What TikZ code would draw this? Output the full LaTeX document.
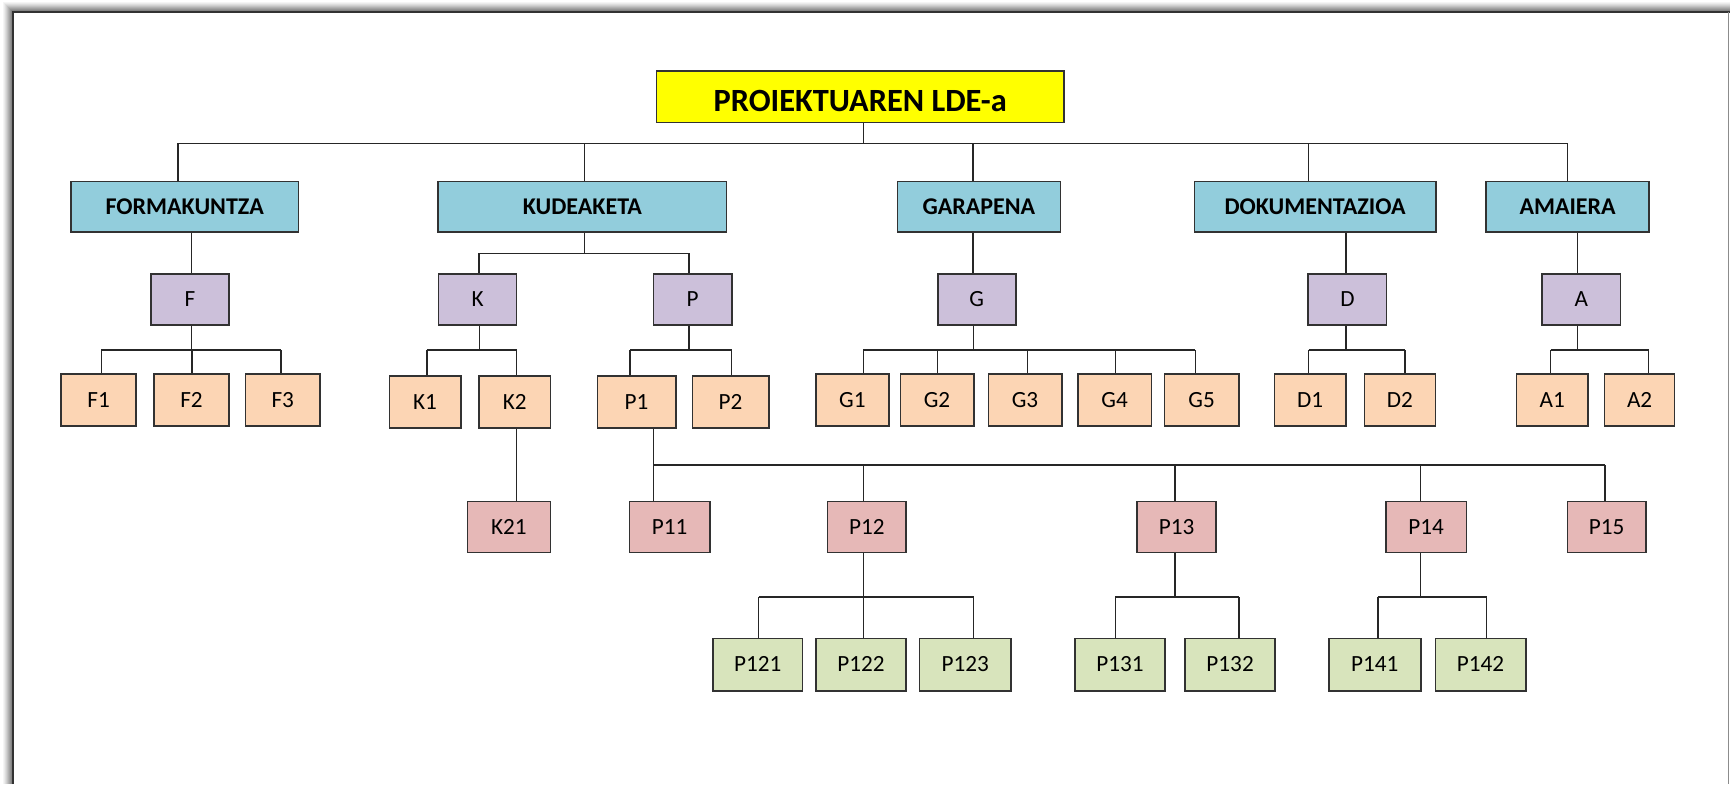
\documentclass[tikz,border=0pt]{standalone}
\usepackage{fontspec}
\setmainfont{Carlito}
\definecolor{topc}{RGB}{146,205,220}
\definecolor{purc}{RGB}{204,192,218}
\definecolor{peachc}{RGB}{252,213,180}
\definecolor{pinkc}{RGB}{230,184,183}
\definecolor{greenc}{RGB}{216,228,188}
\definecolor{rootc}{RGB}{255,255,0}
\definecolor{linec}{RGB}{38,38,38}
\definecolor{edgec}{RGB}{50,50,50}
\tikzset{
  box/.style={draw=edgec, line width=0.8pt, inner sep=0pt, text depth=0pt, anchor=center},
  rootbox/.style={box, fill=rootc, minimum height=25.8pt, text height=15.4pt,
    font=\fontsize{16.2}{19}\selectfont\bfseries},
  topbox/.style={box, fill=topc, minimum height=25.35pt, text height=7.6pt,
    font=\fontsize{12}{14}\selectfont\bfseries},
  grpbox/.style={box, fill=purc, minimum height=25.5pt, text height=7.3pt,
    font=\fontsize{11.6}{13}\selectfont},
  taskbox/.style={box, fill=peachc, minimum height=25.9pt, text height=7.3pt,
    font=\fontsize{11.6}{13}\selectfont},
  subbox/.style={box, fill=pinkc, minimum height=25.5pt, text height=7.3pt,
    font=\fontsize{11.6}{13}\selectfont},
  leafbox/.style={box, fill=greenc, minimum height=26.35pt, text height=7.3pt,
    font=\fontsize{11.6}{13}\selectfont},
  wire/.style={draw=linec, line width=0.75pt}
}
\begin{document}
\begin{tikzpicture}[x=0.5pt, y=-0.5pt]
\useasboundingbox (0,0) rectangle (1730,784);
\fill[white] (0,0) rectangle (1730,784);

% page frame with soft shadow on the top and left sides
\foreach \i/\p in {0/4,1/8,2/13,3/18,4/24,5/30,6/36,7/42,8/48}
  \draw[black!\p, line width=0.55pt] (4+\i,784) -- (4+\i,3+\i) -- (1730,3+\i);
\draw[edgec, line width=0.8pt] (12.8,784) -- (12.8,12) -- (1730,12);
\draw[black!45, line width=0.6pt] (1728.5,12) -- (1728.5,784);

% root
\node[rootbox, minimum width=203.6pt] (root) at (860.2,96.5) {PROIEKTUAREN LDE-a};

% main phases
\node[topbox, minimum width=113.85pt] (form) at (184.7,206.7) {FORMAKUNTZA};
\node[topbox, minimum width=144.05pt] (kud)  at (582.3,206.7) {KUDEAKETA};
\node[topbox, minimum width=81.5pt]   (gar)  at (978.9,206.7) {GARAPENA};
\node[topbox, minimum width=120.8pt]  (dok)  at (1315.1,206.7) {DOKUMENTAZIOA};
\node[topbox, minimum width=81.6pt]   (ama)  at (1567.6,206.7) {AMAIERA};

% work groups
\node[grpbox, minimum width=38.85pt] (F) at (190.05,299.5) {F};
\node[grpbox, minimum width=39pt]    (K) at (477.55,299.5) {K};
\node[grpbox, minimum width=39.2pt]  (P) at (692.6,299.5) {P};
\node[grpbox, minimum width=39pt]    (G) at (976.8,299.5) {G};
\node[grpbox, minimum width=39.2pt]  (D) at (1347.4,299.5) {D};
\node[grpbox, minimum width=39.25pt] (A) at (1581.25,299.5) {A};

% tasks
\node[taskbox, minimum width=37.5pt]  (F1) at (98.7,399.85) {F1};
\node[taskbox, minimum width=37.5pt]  (F2) at (191.5,399.85) {F2};
\node[taskbox, minimum width=37.25pt] (F3) at (282.75,399.85) {F3};
\node[taskbox, minimum width=35.7pt]  (K1) at (425,402.15) {K1};
\node[taskbox, minimum width=35.7pt]  (K2) at (514.7,402.15) {K2};
\node[taskbox, minimum width=39.2pt]  (P1) at (636.5,402.15) {P1};
\node[taskbox, minimum width=38.2pt]  (P2) at (730.5,402.15) {P2};
\node[taskbox, minimum width=36.65pt] (G1) at (852.35,399.85) {G1};
\node[taskbox, minimum width=36.7pt]  (G2) at (937,399.85) {G2};
\node[taskbox, minimum width=36.7pt]  (G3) at (1025,399.85) {G3};
\node[taskbox, minimum width=36.65pt] (G4) at (1114.65,399.85) {G4};
\node[taskbox, minimum width=37.35pt] (G5) at (1201.65,399.85) {G5};
\node[taskbox, minimum width=35.8pt]  (D1) at (1310.2,399.85) {D1};
\node[taskbox, minimum width=35.65pt] (D2) at (1399.95,399.85) {D2};
\node[taskbox, minimum width=35.8pt]  (A1) at (1552.2,399.85) {A1};
\node[taskbox, minimum width=35pt]    (A2) at (1639.6,399.85) {A2};

% subtasks
\node[subbox, minimum width=41.5pt]  (K21) at (508.9,526.8) {K21};
\node[subbox, minimum width=40.05pt] (P11) at (669.65,526.8) {P11};
\node[subbox, minimum width=39.25pt] (P12) at (866.85,526.8) {P12};
\node[subbox, minimum width=39.3pt]  (P13) at (1176.5,526.8) {P13};
\node[subbox, minimum width=40.15pt] (P14) at (1426.15,526.8) {P14};
\node[subbox, minimum width=39.2pt]  (P15) at (1606.5,526.8) {P15};

% work packages
\node[leafbox, minimum width=44.9pt]  (P121) at (757.7,664.65) {P121};
\node[leafbox, minimum width=45.15pt] (P122) at (860.95,664.65) {P122};
\node[leafbox, minimum width=45.9pt]  (P123) at (965.3,664.65) {P123};
\node[leafbox, minimum width=44.9pt]  (P131) at (1119.9,664.65) {P131};
\node[leafbox, minimum width=44.9pt]  (P132) at (1230.1,664.65) {P132};
\node[leafbox, minimum width=46pt]    (P141) at (1374.7,664.65) {P141};
\node[leafbox, minimum width=45.2pt]  (P142) at (1480.5,664.65) {P142};

% root to phases
\coordinate (r0) at (863.3,143.3);
\coordinate (ja) at (178,143.3);
\coordinate (jb) at (584.4,143.3);
\coordinate (jc) at (973.1,143.3);
\coordinate (jd) at (1308.5,143.3);
\coordinate (je) at (1567.4,143.3);
\draw[wire] (root.south -| r0) -- (r0);
\draw[wire] (ja) -- (je);
\foreach \j/\n in {ja/form, jb/kud, jc/gar, jd/dok, je/ama}
  \draw[wire] (\j) -- (\j |- \n.north);

% phases to groups
\coordinate (xf) at (191.4,0);
\draw[wire] (xf |- form.south) -- (xf |- F.north);
\coordinate (kj) at (584.4,253.3);
\coordinate (kl) at (479.1,253.3);
\coordinate (kr) at (689.2,253.3);
\draw[wire] (kj |- kud.south) -- (kj);
\draw[wire] (kl) -- (kr);
\draw[wire] (kl) -- (kl |- K.north);
\draw[wire] (kr) -- (kr |- P.north);
\coordinate (xg) at (973.1,0);
\draw[wire] (xg |- gar.south) -- (xg |- G.north);
\coordinate (xd) at (1346,0);
\draw[wire] (xd |- dok.south) -- (xd |- D.north);
\coordinate (xa) at (1577.5,0);
\draw[wire] (xa |- ama.south) -- (xa |- A.north);

% groups to tasks
\coordinate (fj) at (191.4,350);
\coordinate (f1) at (101.3,350);
\coordinate (f2) at (192,350);
\coordinate (f3) at (281.2,350);
\draw[wire] (fj |- F.south) -- (fj);
\draw[wire] (f1) -- (f3);
\foreach \j/\n in {f1/F1, f2/F2, f3/F3} \draw[wire] (\j) -- (\j |- \n.north);

\coordinate (kk) at (479.4,350);
\coordinate (k1) at (426.8,350);
\coordinate (k2) at (516.5,350);
\draw[wire] (kk |- K.south) -- (kk);
\draw[wire] (k1) -- (k2);
\foreach \j/\n in {k1/K1, k2/K2} \draw[wire] (\j) -- (\j |- \n.north);

\coordinate (pj) at (689,350);
\coordinate (p1) at (630,350);
\coordinate (p2) at (731.7,350);
\draw[wire] (pj |- P.south) -- (pj);
\draw[wire] (p1) -- (p2);
\foreach \j/\n in {p1/P1, p2/P2} \draw[wire] (\j) -- (\j |- \n.north);

\coordinate (gj) at (973.3,350);
\coordinate (g1) at (863.3,350);
\coordinate (g2) at (937.7,350);
\coordinate (g3) at (1027.7,350);
\coordinate (g4) at (1115.7,350);
\coordinate (g5) at (1195.3,350);
\draw[wire] (gj |- G.south) -- (gj);
\draw[wire] (g1) -- (g5);
\foreach \j/\n in {g1/G1, g2/G2, g3/G3, g4/G4, g5/G5} \draw[wire] (\j) -- (\j |- \n.north);

\coordinate (dj) at (1346,350);
\coordinate (d1) at (1308.5,350);
\coordinate (d2) at (1405.2,350);
\draw[wire] (dj |- D.south) -- (dj);
\draw[wire] (d1) -- (d2);
\foreach \j/\n in {d1/D1, d2/D2} \draw[wire] (\j) -- (\j |- \n.north);

\coordinate (aj) at (1577.5,350);
\coordinate (a1) at (1550.5,350);
\coordinate (a2) at (1648.5,350);
\draw[wire] (aj |- A.south) -- (aj);
\draw[wire] (a1) -- (a2);
\foreach \j/\n in {a1/A1, a2/A2} \draw[wire] (\j) -- (\j |- \n.north);

% tasks to subtasks
\coordinate (xk2) at (516.5,0);
\draw[wire] (xk2 |- K2.south) -- (xk2 |- K21.north);
\coordinate (q0) at (653.5,465);
\coordinate (q2) at (863.3,465);
\coordinate (q3) at (1175,465);
\coordinate (q4) at (1420.3,465);
\coordinate (q5) at (1605,465);
\draw[wire] (q0 |- P1.south) -- (q0 |- P11.north);
\draw[wire] (q0) -- (q5);
\foreach \j/\n in {q2/P12, q3/P13, q4/P14, q5/P15} \draw[wire] (\j) -- (\j |- \n.north);

% subtasks to work packages
\coordinate (s2) at (863.3,597);
\coordinate (s21) at (758.7,597);
\coordinate (s23) at (973.5,597);
\draw[wire] (s2 |- P12.south) -- (s2 |- P122.north);
\draw[wire] (s21) -- (s23);
\foreach \j/\n in {s21/P121, s23/P123} \draw[wire] (\j) -- (\j |- \n.north);

\coordinate (s3) at (1175,597);
\coordinate (s31) at (1115.3,597);
\coordinate (s32) at (1238.8,597);
\draw[wire] (s3 |- P13.south) -- (s3);
\draw[wire] (s31) -- (s32);
\foreach \j/\n in {s31/P131, s32/P132} \draw[wire] (\j) -- (\j |- \n.north);

\coordinate (s4) at (1420.3,597);
\coordinate (s41) at (1378,597);
\coordinate (s42) at (1486.7,597);
\draw[wire] (s4 |- P14.south) -- (s4);
\draw[wire] (s41) -- (s42);
\foreach \j/\n in {s41/P141, s42/P142} \draw[wire] (\j) -- (\j |- \n.north);
\end{tikzpicture}
\end{document}
